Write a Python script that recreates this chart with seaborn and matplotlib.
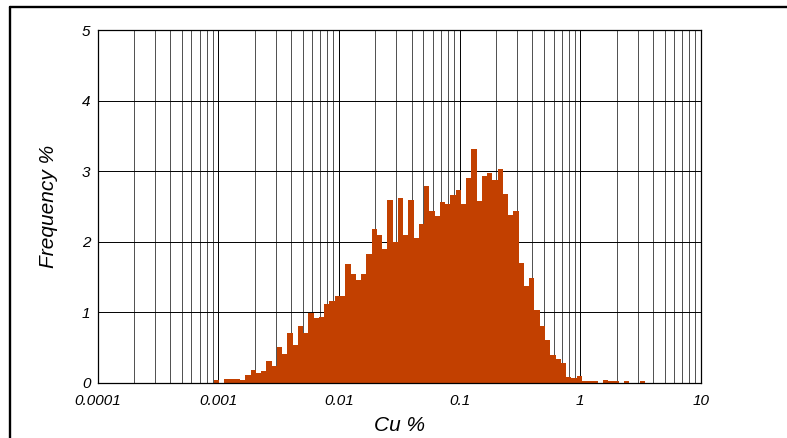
import numpy as np
import matplotlib
matplotlib.use("Agg")
import matplotlib.pyplot as plt
from matplotlib.ticker import LogLocator, FixedLocator, NullFormatter
from matplotlib.lines import Line2D
import seaborn as sns

# histogram of Cu grades, equal-width bins in log10 space
bin_start_log = -3.036
bin_width_log = 0.04355
freq_pct = [
    0.03, 0.00, 0.05, 0.05, 0.05, 0.03, 0.11, 0.18, 0.13, 0.16,
    0.31, 0.24, 0.51, 0.41, 0.70, 0.53, 0.80, 0.70, 0.99, 0.92,
    0.93, 1.11, 1.16, 1.23, 1.23, 1.68, 1.54, 1.45, 1.54, 1.82,
    2.18, 2.09, 1.89, 2.59, 1.99, 2.62, 2.09, 2.59, 2.05, 2.25,
    2.79, 2.43, 2.37, 2.57, 2.53, 2.67, 2.73, 2.53, 2.90, 3.32,
    2.58, 2.93, 2.98, 2.87, 3.03, 2.68, 2.38, 2.43, 1.70, 1.37,
    1.48, 1.03, 0.80, 0.60, 0.39, 0.33, 0.28, 0.08, 0.07, 0.09,
    0.015, 0.015, 0.015, 0.0, 0.03, 0.015, 0.015, 0.0, 0.02, 0.0,
    0.0, 0.02,
]
x_ticks = [0.0001, 0.001, 0.01, 0.1, 1, 10]
x_ticklabels = ["0.0001", "0.001", "0.01", "0.1", "1", "10"]
y_ticks = [0, 1, 2, 3, 4, 5]

n_bins = len(freq_pct)
bin_centers = 10 ** (bin_start_log + bin_width_log * (np.arange(n_bins) + 0.5))

sns.set_theme(style="white")
plt.rcParams["font.family"] = ["Liberation Sans", "DejaVu Sans"]
plt.rcParams["font.style"] = "italic"
for key in ["text.color", "axes.labelcolor", "xtick.color", "ytick.color"]:
    plt.rcParams[key] = "black"

fig = plt.figure(figsize=(7.87, 4.38), dpi=100)
ax = fig.add_axes([0.1239, 0.1267, 0.8907 - 0.1239, 0.9304 - 0.1267])

sns.histplot(
    x=bin_centers, weights=freq_pct,
    bins=n_bins,
    binrange=(bin_start_log, bin_start_log + bin_width_log * n_bins),
    log_scale=True, stat="count",
    color="#C24000", alpha=1, linewidth=0, edgecolor="none",
    ax=ax,
)

ax.set_xlim(1e-4, 10)
ax.set_ylim(0, 5)

# grid: decades + minor lines, integer percents
ax.set_axisbelow(True)
ax.xaxis.set_major_locator(FixedLocator(x_ticks))
ax.xaxis.set_minor_locator(LogLocator(base=10, subs=np.arange(2, 10)))
ax.xaxis.set_minor_formatter(NullFormatter())
ax.set_xticks(x_ticks)
ax.set_xticklabels(x_ticklabels)
ax.set_yticks(y_ticks)
ax.grid(True, which="major", axis="both", color="black", linewidth=0.7)
ax.grid(True, which="minor", axis="x", color="#333333", linewidth=0.6)

ax.tick_params(axis="both", which="both", length=0, labelsize=11)
ax.tick_params(axis="x", pad=8)
ax.tick_params(axis="y", pad=5)
for lab in ax.get_xticklabels() + ax.get_yticklabels():
    lab.set_fontstyle("italic")

for side in ["left", "right", "top", "bottom"]:
    ax.spines[side].set_visible(True)
    ax.spines[side].set_color("black")
    ax.spines[side].set_linewidth(0.9)

ax.set_xlabel("Cu %", fontsize=15, fontstyle="italic", labelpad=6)
ax.set_ylabel("Frequency %", fontsize=15, fontstyle="italic", labelpad=17)

# outer frame (top and left only, as in the source image)
fig.add_artist(Line2D([10.3 / 787, 1.0], [1 - 7 / 438, 1 - 7 / 438],
                      color="black", linewidth=1.7, transform=fig.transFigure))
fig.add_artist(Line2D([10.3 / 787, 10.3 / 787], [0.0, 1 - 7 / 438],
                      color="black", linewidth=1.7, transform=fig.transFigure))

fig.savefig("out.png", dpi=100)
